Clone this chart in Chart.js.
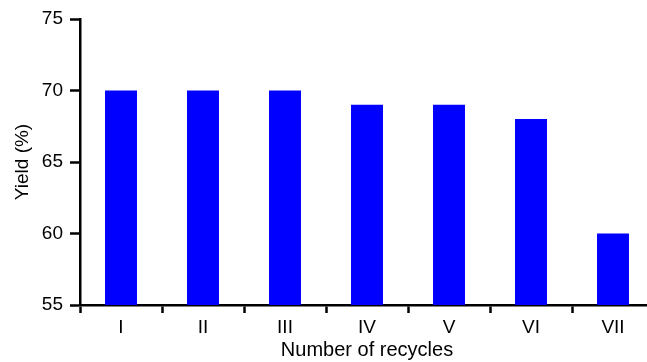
<!DOCTYPE html>
<html>
<head>
<meta charset="utf-8">
<script src="https://cdn.jsdelivr.net/npm/chart.js@4/dist/chart.umd.min.js"></script>
<style>
  html, body { margin: 0; padding: 0; background: #fff; overflow: hidden; }
  #wrap { width: 647px; height: 362px; overflow: hidden; }
  canvas { display: block; }
</style>
</head>
<body>
<div id="wrap"><canvas id="c" width="660" height="362"></canvas></div>
<script>
// Yield of the product after each catalyst recycle
const recycles = ['I', 'II', 'III', 'IV', 'V', 'VI', 'VII'];
const yieldPct = [70, 70, 70, 69, 69, 68, 60];
const yTicks = [55, 60, 65, 70, 75];

const FONT = 'Liberation Sans, Arial, Helvetica, sans-serif';

new Chart(document.getElementById('c'), {
  type: 'bar',
  data: {
    labels: recycles,
    datasets: [{
      data: yieldPct,
      backgroundColor: '#0000ff',
      borderWidth: 0,
      barPercentage: 0.39,
      categoryPercentage: 1
    }]
  },
  options: {
    responsive: false,
    animation: false,
    devicePixelRatio: 1,
    layout: { padding: { top: 19, right: 6, bottom: 0, left: 0 } },
    plugins: { legend: { display: false }, tooltip: { enabled: false } },
    scales: {
      x: {
        offset: true,
        grid: { display: true, offset: true, drawOnChartArea: false, drawTicks: true,
                tickLength: 8, tickWidth: 2.5, tickColor: '#000' },
        border: { display: true, color: '#000', width: 2.5 },
        ticks: { color: '#000', padding: 3, font: { family: FONT, size: 19 } },
        title: { display: true, text: 'Number of recycles', color: '#000',
                 font: { family: FONT, size: 20 }, padding: { top: 0, bottom: 0 } },
        afterFit: s => { s.height = 57; }
      },
      y: {
        min: 55,
        max: 75,
        afterBuildTicks: s => { s.ticks = yTicks.map(v => ({ value: v })); },
        grid: { display: true, drawOnChartArea: false, drawTicks: true,
                tickLength: 10, tickWidth: 2.5, tickColor: '#000' },
        border: { display: true, color: '#000', width: 2.5 },
        ticks: { color: '#000', padding: 7, font: { family: FONT, size: 19 } },
        title: { display: true, text: 'Yield (%)', color: '#000',
                 font: { family: FONT, size: 19 }, padding: { top: 11, bottom: 0 } },
        afterFit: s => { s.width = 80; }
      }
    }
  }
});
</script>
</body>
</html>
